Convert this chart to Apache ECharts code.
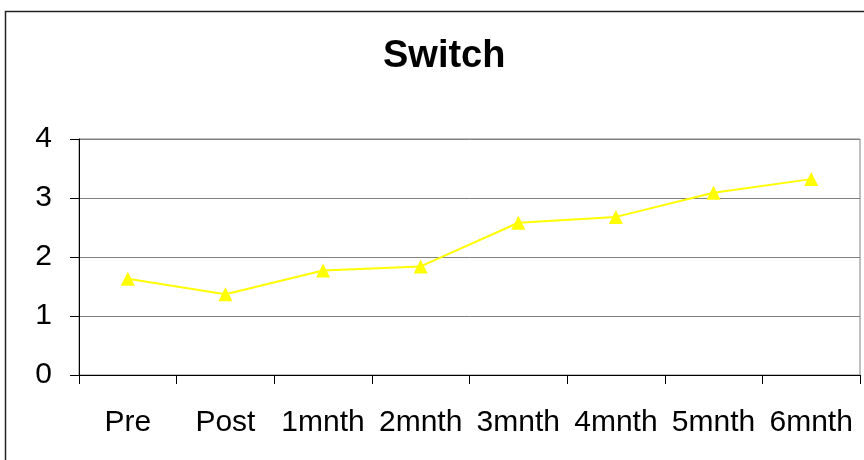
<!DOCTYPE html>
<html>
<head>
<meta charset="utf-8">
<script src="https://cdn.jsdelivr.net/npm/echarts@6/dist/echarts.min.js"></script>
<style>
  html, body { margin: 0; padding: 0; background: #fff; }
  #chart { width: 864px; height: 460px; }
</style>
</head>
<body>
<div id="chart"></div>
<script>
const titleText = 'Switch';
const categories = ['Pre', 'Post', '1mnth', '2mnth', '3mnth', '4mnth', '5mnth', '6mnth'];
const switchValues = [1.63, 1.37, 1.77, 1.84, 2.58, 2.68, 3.09, 3.32];
const yMin = 0, yMax = 4, yInterval = 1;

const FONT = '"Liberation Sans", Arial, sans-serif';
const chart = echarts.init(document.getElementById('chart'), null, { renderer: 'canvas' });
chart.setOption({
  backgroundColor: '#ffffff',
  animation: false,
  title: {
    text: titleText,
    left: 378,
    top: 33,
    textStyle: { fontFamily: FONT, fontSize: 38, fontWeight: 'bold', color: '#000' }
  },
  graphic: [{
    type: 'rect',
    shape: { x: 5.5, y: 11.5, width: 900, height: 500 },
    style: { fill: 'none', stroke: '#222', lineWidth: 1.5 },
    silent: true, z: -1
  }],
  grid: {
    left: 79, right: 4, top: 139, bottom: 85,
    show: true, borderColor: '#808080', borderWidth: 1, backgroundColor: 'transparent'
  },
  xAxis: {
    type: 'category',
    data: categories,
    boundaryGap: true,
    axisLine: { show: true, lineStyle: { color: '#000', width: 1 } },
    axisTick: { show: true, alignWithLabel: false, length: 9, lineStyle: { color: '#000' } },
    axisLabel: { fontFamily: FONT, fontSize: 30, color: '#000', margin: 33, interval: 0 },
    splitLine: { show: false }
  },
  yAxis: {
    type: 'value',
    min: yMin, max: yMax, interval: yInterval,
    axisLine: { show: true, lineStyle: { color: '#000', width: 1 } },
    axisTick: { show: true, length: 9, lineStyle: { color: '#000' } },
    axisLabel: { fontFamily: FONT, fontSize: 30, color: '#000', margin: 27 },
    splitLine: { show: true, lineStyle: { color: '#808080', width: 1 } }
  },
  series: [{
    type: 'line',
    data: switchValues,
    symbol: 'triangle',
    symbolSize: 14,
    lineStyle: { color: '#FFFF00', width: 2 },
    itemStyle: { color: '#FFFF00' }
  }]
});
</script>
</body>
</html>
